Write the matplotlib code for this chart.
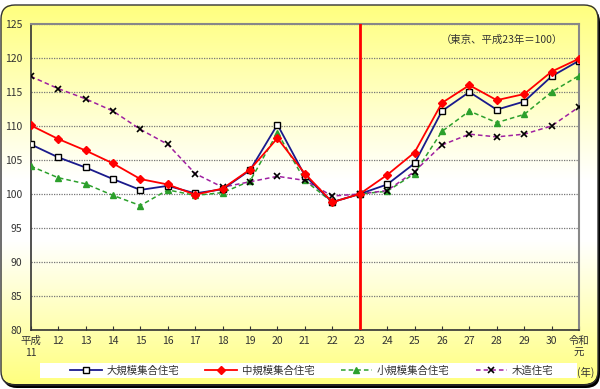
import numpy as np
import matplotlib.pyplot as plt
from matplotlib.patches import FancyBboxPatch, Rectangle

plt.rcParams['font.family'] = ['Noto Sans CJK JP', 'DejaVu Sans']

# 平成11年 ... 令和元年
years = ["平成\n11", "12", "13", "14", "15", "16", "17", "18", "19", "20",
         "21", "22", "23", "24", "25", "26", "27", "28", "29", "30", "令和\n元"]
large = [107.3, 105.4, 103.9, 102.2, 100.6, 101.2, 100.1, 100.7, 103.5, 110.2,
         102.7, 98.8, 100.0, 101.4, 104.5, 112.2, 115.0, 112.4, 113.6, 117.3, 119.6]
medium = [110.1, 108.1, 106.4, 104.5, 102.2, 101.4, 99.9, 100.8, 103.6, 108.2,
          103.0, 98.8, 100.0, 102.8, 106.1, 113.4, 116.0, 113.8, 114.7, 118.0, 119.9]
small = [104.1, 102.4, 101.5, 99.8, 98.3, 100.6, 99.8, 100.2, 101.9, 109.0,
         102.0, 98.8, 100.0, 100.4, 103.0, 109.2, 112.2, 110.5, 111.7, 115.0, 117.4]
wood = [117.3, 115.5, 114.0, 112.2, 109.5, 107.3, 103.0, 101.0, 101.8, 102.6,
        102.0, 99.7, 100.0, 100.5, 103.3, 107.2, 108.8, 108.4, 108.8, 110.0, 112.8]
labels = ["大規模集合住宅", "中規模集合住宅", "小規模集合住宅", "木造住宅"]

fig = plt.figure(figsize=(6, 3.89), dpi=100)

# background: rounded frame with yellow-white-yellow gradient
bg = fig.add_axes([0, 0, 1, 1])
bg.set_xlim(0, 600)
bg.set_ylim(389, 0)
bg.axis("off")
grad = np.concatenate([np.linspace(0, 1, 60), np.ones(20), np.linspace(1, 0, 50)])
yellow = np.array([1.0, 1.0, 0.5])
white = np.array([1.0, 1.0, 1.0])
img = yellow[None, :] * (1 - grad[:, None]) + white[None, :] * grad[:, None]
img = np.repeat(img[:, None, :], 2, axis=1)
shadow = FancyBboxPatch((3, 8), 597, 380, boxstyle="round,pad=0,rounding_size=14",
                        facecolor="black", edgecolor="none")
bg.add_patch(shadow)
frame = FancyBboxPatch((1, 5), 597, 380, boxstyle="round,pad=0,rounding_size=14",
                       facecolor="none", edgecolor="#333333", lw=1.0)
im = bg.imshow(img, extent=[1, 598, 385, 5], aspect="auto", zorder=1)
im.set_clip_path(frame)
bg.add_patch(frame)
frame.set_zorder(2)
# white legend band
bg.add_patch(Rectangle((40, 363), 537, 15, facecolor="white", edgecolor="none", zorder=3))

ax = fig.add_axes([30.7 / 600, 1 - 330 / 389, (579 - 30.7) / 600, (330 - 24) / 389])
ax.patch.set_alpha(0)
x = np.arange(len(years))

ax.plot(x, large, color="#1a1a8c", lw=1.3, marker="s", ms=5, mfc="white", mec="black", mew=1.0,
        label=labels[0], zorder=4)
ax.plot(x, medium, color="red", lw=1.3, marker="D", ms=4, mfc="red", mec="red",
        label=labels[1], zorder=5)
ax.plot(x, small, color="#2ca02c", lw=1.1, ls=(0, (3, 2)), marker="^", ms=5, mfc="#2ca02c",
        mec="#2ca02c", label=labels[2], zorder=3)
ax.plot(x, wood, color="#a020a0", lw=1.1, ls=(0, (3, 2)), marker="x", ms=4.5, mec="black", mew=1.2,
        label=labels[3], zorder=3)

ax.axvline(12, color="red", lw=2, zorder=6)

ax.set_xlim(0, 20)
ax.set_ylim(80, 125)
ax.set_yticks(np.arange(80, 126, 5))
ax.set_xticks(x)
ax.set_xticklabels(years, fontsize=7.5, linespacing=1.3, va="top")
ax.tick_params(axis="y", labelsize=7.5, length=0, pad=6, colors="#333333")
ax.tick_params(axis="x", direction="in", length=3, pad=4, colors="#333333")
ax.grid(axis="y", color="#777777", ls=(0, (1, 1)), lw=0.9)
for s in ["top", "right"]:
    ax.spines[s].set_color("#888888")
    ax.spines[s].set_linewidth(1.5)
for s in ["left", "bottom"]:
    ax.spines[s].set_color("#333333")
    ax.spines[s].set_linewidth(1.2)

ax.text(0.97, 0.948, "（東京、平成23年＝100）", transform=ax.transAxes, ha="right", va="center",
        fontsize=7.5, color="#333333")
fig.text(586 / 600, 1 - 372 / 389, "(年)", ha="center", va="center", fontsize=7.5,
         color="#333333", zorder=10)

leg = fig.legend(loc="center", bbox_to_anchor=(312 / 600, 1 - 370.5 / 389), ncol=4,
                 fontsize=7.5, frameon=False, handlelength=3.0, columnspacing=2.5,
                 handletextpad=0.5, borderpad=0.1)
for t in leg.get_texts():
    t.set_color("#333333")

fig.savefig("out.png", dpi=100)
